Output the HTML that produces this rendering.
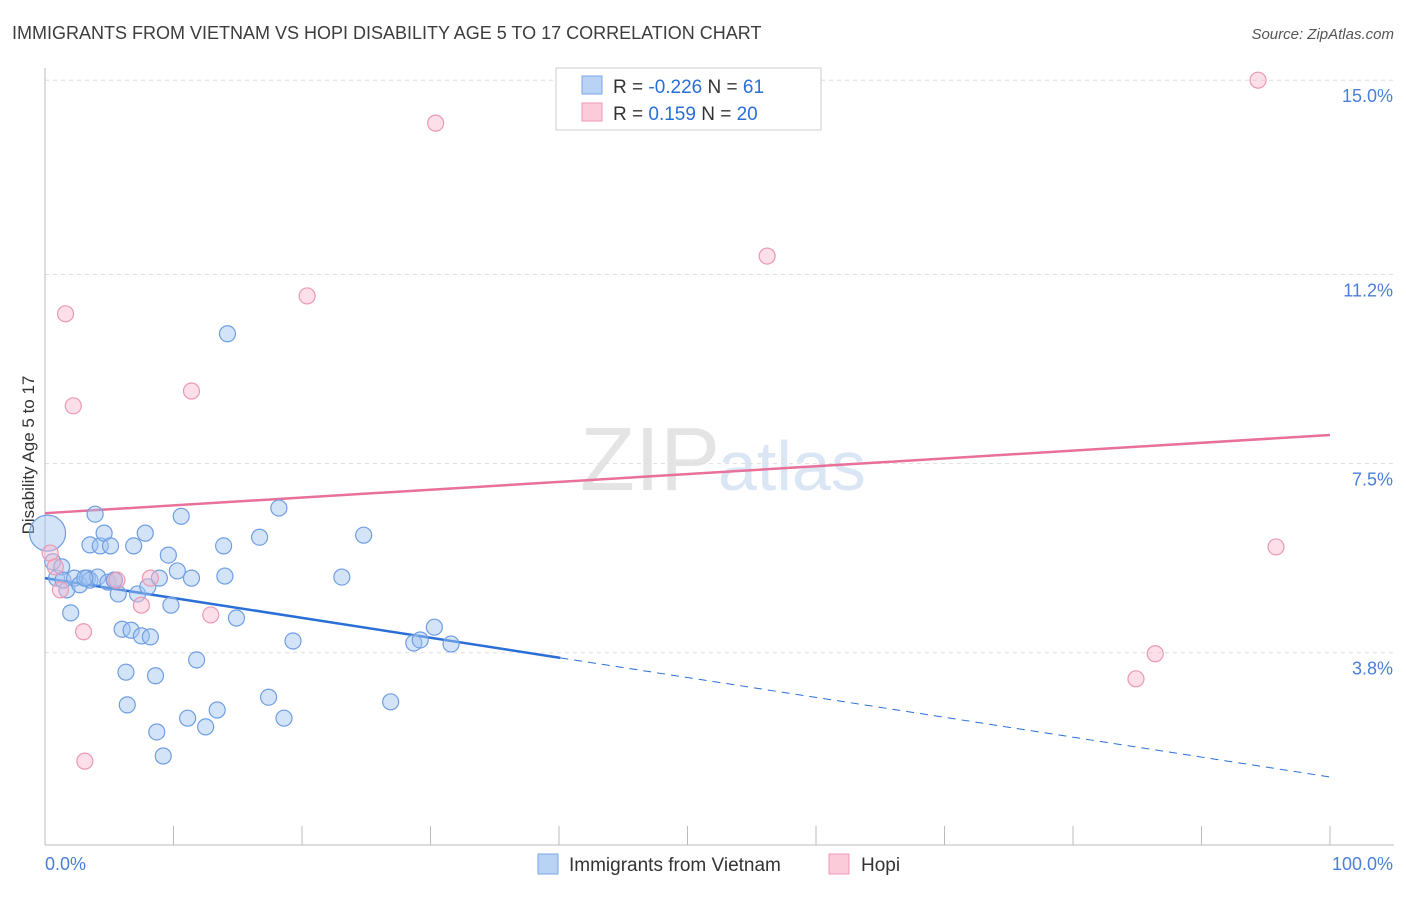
<!DOCTYPE html>
<html><head><meta charset="utf-8"><style>
body{margin:0;background:#fff;font-family:"Liberation Sans",sans-serif;}
svg text{font-family:"Liberation Sans",sans-serif;}
</style></head><body>
<svg id="chart" width="1406" height="892">
<text x="12" y="39" font-size="18" fill="#3c3c3c">IMMIGRANTS FROM VIETNAM VS HOPI DISABILITY AGE 5 TO 17 CORRELATION CHART</text>
<text x="1394" y="39" font-size="15" fill="#555" font-style="italic" text-anchor="end">Source: ZipAtlas.com</text>
<text x="720" y="490" font-size="90" fill="#e4e4e4" text-anchor="end" font-family="Liberation Serif">ZIP</text>
<text x="718" y="490" font-size="70" fill="#dbe6f5">atlas</text>
<text transform="translate(34,455) rotate(-90)" font-size="17" fill="#333" text-anchor="middle">Disability Age 5 to 17</text>
<g id="grid"></g><g id="lines"></g><g id="pts"></g>
<g>
<rect x="556" y="68" width="265" height="62" fill="#fff" stroke="#ccc"/>
<rect x="582" y="76" width="20" height="18" fill="#b9d3f5" stroke="#7aa6e6"/>
<rect x="582" y="103" width="20" height="18" fill="#fbcbd9" stroke="#ef9ab5"/>
<text x="613" y="93" font-size="19" fill="#333">R = <tspan fill="#2a6fd6">-0.226</tspan>   N =  <tspan fill="#2a6fd6">61</tspan></text>
<text x="613" y="120" font-size="19" fill="#333">R =   <tspan fill="#2a6fd6">0.159</tspan>   N = <tspan fill="#2a6fd6">20</tspan></text>
</g>
<g>
<rect x="538" y="854" width="20" height="20" fill="#b9d3f5" stroke="#7aa6e6"/>
<text x="569" y="871" font-size="19" fill="#333">Immigrants from Vietnam</text>
<rect x="829" y="854" width="20" height="20" fill="#fbcbd9" stroke="#ef9ab5"/>
<text x="861" y="871" font-size="19" fill="#333">Hopi</text>
</g>
</svg>
<script>
const yTicks=[3.8,7.5,11.2,15.0];
const xTickLabels=["0.0%","100.0%"];
const blueX=[0.2,0.6,0.9,1.3,1.7,2.0,1.4,2.3,2.7,3.3,3.5,3.9,3.5,4.1,4.3,4.6,5.1,4.9,5.4,5.7,6.0,6.3,6.4,6.7,6.9,7.2,7.5,7.8,8.0,8.2,8.6,8.7,8.9,9.2,9.6,9.8,10.3,10.6,11.1,11.4,11.8,12.5,13.4,13.9,14.0,14.2,14.9,16.7,17.4,18.2,18.6,19.3,23.1,24.8,26.9,28.7,29.2,30.3,31.6,5.4,3.1];
const blueY=[6.14,5.58,5.26,5.48,5.03,4.58,5.22,5.26,5.13,5.26,5.22,6.51,5.91,5.28,5.89,6.14,5.89,5.18,5.22,4.95,4.26,3.42,2.78,4.24,5.89,4.95,4.13,6.14,5.09,4.11,3.35,2.25,5.26,1.78,5.71,4.73,5.40,6.47,2.52,5.26,3.66,2.35,2.68,5.89,5.30,10.04,4.48,6.06,2.93,6.63,2.52,4.03,5.28,6.10,2.84,3.99,4.05,4.30,3.97,5.22,5.26];
const pinkX=[0.4,0.8,1.2,1.6,2.2,3.0,3.1,5.6,7.5,8.2,11.4,12.9,20.4,30.4,56.2,84.9,86.4,94.4,95.8];
const pinkY=[5.75,5.48,5.03,10.43,8.63,4.21,1.68,5.22,4.73,5.26,8.92,4.54,10.78,14.16,11.56,3.29,3.78,15.0,5.87];
const blueLine=[5.26,1.37], blueSolidEnd=40.1;
const pinkLine=[6.53,8.06];
const NS="http://www.w3.org/2000/svg";
const X=v=>45+v*12.85, Y=v=>847-v*51.12;
function mk(t,a,p){const e=document.createElementNS(NS,t);for(const k in a)e.setAttribute(k,a[k]);p.appendChild(e);return e;}
const grid=document.getElementById('grid');
yTicks.forEach(t=>{
 const l=mk('line',{x1:45,x2:1394,y1:Y(t),y2:Y(t),stroke:'#ddd','stroke-dasharray':'4,4'},grid);
 
 
 const tx=mk('text',{x:1393,y:Y(t)+22,'font-size':18,fill:'#4a7fd8','text-anchor':'end'},grid);
 tx.textContent=t.toFixed(1)+'%';
 
 
});
mk('line',{x1:45,x2:45,y1:68,y2:845,stroke:'#bbb'},grid);
mk('line',{x1:45,x2:1394,y1:845,y2:845,stroke:'#bbb'},grid);
for(let i=1;i<=10;i++){mk('line',{x1:X(i*10),x2:X(i*10),y1:826,y2:845,stroke:'#bbb'},grid);}
xTickLabels.forEach((s,i)=>{
 const tx=mk('text',{x:i?1393:45,y:870,'font-size':18,fill:'#4a7fd8','text-anchor':i?'end':'start'},grid);
 tx.textContent=s;
 
 
});
const lines=document.getElementById('lines');
const bAt=v=>blueLine[0]+(blueLine[1]-blueLine[0])*v/100;
let l1=mk('line',{x1:X(0),y1:Y(bAt(0)),x2:X(blueSolidEnd),y2:Y(bAt(blueSolidEnd)),stroke:'#2a6fd6','stroke-width':2.5},lines);


let l2=mk('line',{x1:X(blueSolidEnd),y1:Y(bAt(blueSolidEnd)),x2:X(100),y2:Y(bAt(100)),stroke:'#2a6fd6','stroke-width':1,'stroke-dasharray':'8,6'},lines);


let l3=mk('line',{x1:X(0),y1:Y(pinkLine[0]),x2:X(100),y2:Y(pinkLine[1]),stroke:'#e8709a','stroke-width':2.5},lines);


const pts=document.getElementById('pts');
blueX.forEach((x,i)=>{
 const c=mk('circle',{cx:X(x),cy:Y(blueY[i]),r:i===0?18:8,fill:'rgba(160,195,240,0.45)',stroke:'#6f9ee3','stroke-width':1.2},pts);
 
 
});
pinkX.forEach((x,i)=>{
 const c=mk('circle',{cx:X(x),cy:Y(pinkY[i]),r:8,fill:'rgba(248,185,205,0.45)',stroke:'#ec98b4','stroke-width':1.2},pts);
 
 
});
</script>
</body></html>
